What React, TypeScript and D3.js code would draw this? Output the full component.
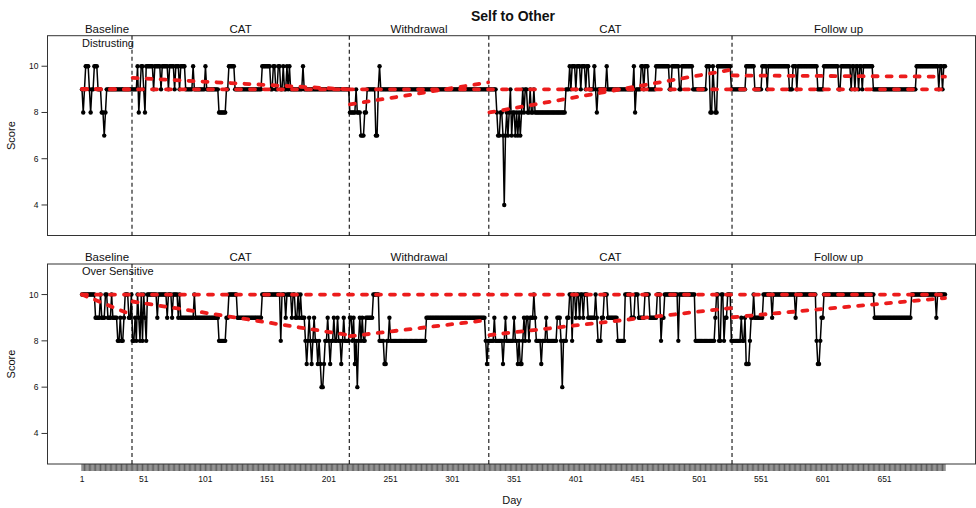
import React from "react";
import * as d3 from "d3";

const title = "Self to Other";
const phaseNames = ["Baseline", "CAT", "Withdrawal", "CAT", "Follow up"];
const phaseBreaks = [41.5, 217.5, 330.5, 527.5];
const firstDay = 1;
const lastDay = 700;
const dayTicks = [1, 51, 101, 151, 201, 251, 301, 351, 401, 451, 501, 551, 601, 651];
const scoreTicks = [4, 6, 8, 10];

// daily scores as [score, consecutive days]
const distrustingRuns: [number, number][] = [
  [9, 1], [8, 1], [9, 1], [10, 3], [9, 1], [8, 1], [9, 2], [10, 3], [9, 3], [8, 2], [7, 1], [8, 1], [9, 21],
  [9, 4], [10, 1], [8, 1], [9, 1], [10, 2], [9, 1], [8, 1],
  [10, 6], [9, 1], [10, 5], [9, 1], [10, 5], [9, 1], [10, 4], [9, 1], [10, 3], [9, 1], [10, 4],
  [9, 6], [10, 1], [9, 9], [10, 1], [9, 10], [8, 6], [9, 2], [10, 5], [9, 22], [10, 7],
  [9, 2], [10, 2], [9, 2], [10, 2], [9, 2], [10, 1], [9, 2], [10, 1], [9, 1], [10, 1],
  [9, 10], [10, 1], [9, 37],
  [8, 5], [9, 1], [8, 3], [7, 3], [8, 2], [9, 7], [7, 2], [9, 1], [10, 1], [9, 88],
  [9, 6], [8, 1], [7, 2], [8, 2], [7, 1], [4, 1], [7, 1], [8, 1], [7, 1], [8, 1], [9, 1], [7, 1], [8, 2],
  [7, 1], [8, 1], [7, 1], [8, 1], [7, 1], [8, 1], [9, 1], [8, 1], [9, 2], [8, 2], [9, 1], [8, 2], [9, 1],
  [8, 25], [9, 3],
  [10, 1], [9, 1], [10, 3], [9, 1], [10, 3], [9, 1], [10, 3], [9, 1], [10, 2],
  [9, 4], [10, 1], [9, 1], [8, 1], [9, 7], [10, 1], [9, 21], [10, 1], [8, 1], [9, 4], [10, 2], [9, 1], [10, 3],
  [9, 6], [10, 11], [9, 2], [10, 6], [9, 2], [10, 9], [9, 11],
  [10, 3], [8, 2], [10, 1], [9, 1], [8, 2], [10, 11], [9, 1],
  [9, 11], [10, 7], [9, 6], [10, 4], [9, 1], [10, 17], [9, 3], [10, 3], [9, 1], [10, 16], [9, 5], [10, 12],
  [9, 2], [10, 8], [9, 1], [10, 2], [9, 1], [10, 2], [9, 1], [10, 2], [9, 1], [10, 8], [9, 35],
  [10, 18], [9, 1], [10, 2], [9, 1], [10, 2],
];

const overSensitiveRuns: [number, number][] = [
  [10, 11], [9, 4], [10, 1], [9, 3], [10, 2], [9, 3], [10, 1], [9, 4], [8, 2], [9, 1], [8, 2], [9, 1], [10, 3], [9, 2], [10, 1],
  [8, 2], [9, 1], [8, 1], [10, 1], [9, 1], [8, 1], [10, 1], [8, 1], [10, 1], [9, 1], [8, 1], [10, 1],
  [10, 7], [9, 1], [10, 7], [9, 1], [10, 3], [9, 1], [10, 4], [9, 1], [10, 1],
  [9, 11], [10, 1], [9, 19], [8, 6], [9, 2], [10, 7], [9, 20], [10, 15], [8, 1], [10, 3],
  [9, 1], [10, 4], [9, 1], [10, 2], [9, 2], [10, 1], [9, 1], [10, 1], [9, 3],
  [8, 1], [7, 1], [8, 1], [9, 1], [8, 1], [7, 1], [8, 1], [9, 1], [8, 2], [7, 1], [8, 1], [7, 1], [6, 2], [7, 1],
  [8, 2], [9, 1], [8, 1], [7, 1], [8, 2], [9, 1], [8, 2], [9, 1], [8, 2], [7, 1], [8, 1], [9, 1], [8, 4],
  [9, 2], [8, 1], [9, 1], [7, 1], [8, 1], [6, 1], [8, 1], [9, 1], [8, 1], [9, 1], [8, 2], [9, 6], [10, 5],
  [8, 4], [7, 2], [8, 2], [9, 1], [8, 29], [9, 48], [8, 1], [7, 1], [8, 1],
  [8, 4], [9, 1], [8, 6], [7, 1], [8, 1], [9, 1], [8, 6], [9, 1], [8, 2], [7, 1], [8, 1], [7, 2], [8, 1], [9, 1],
  [8, 1], [9, 2], [8, 1], [9, 3], [10, 1], [9, 1], [8, 4], [7, 1], [8, 3], [9, 1], [8, 8], [9, 3], [8, 1], [6, 1],
  [8, 3], [9, 2],
  [10, 2], [8, 1], [10, 2], [9, 1], [10, 2], [9, 1], [10, 2], [9, 1], [10, 3],
  [9, 6], [10, 1], [9, 1], [8, 3], [9, 2], [10, 3], [9, 8], [8, 6],
  [10, 5], [9, 3], [10, 3], [9, 5], [10, 4], [9, 6],
  [10, 3], [8, 1], [9, 2], [10, 11], [8, 1], [10, 13],
  [8, 16], [9, 1], [10, 2], [8, 2], [10, 2], [8, 1], [9, 2], [10, 3], [8, 1],
  [8, 7], [9, 1], [8, 2], [9, 1], [7, 3], [8, 1], [9, 2], [10, 1], [9, 7],
  [10, 7], [9, 1], [10, 18], [9, 1], [10, 16],
  [8, 1], [7, 2], [8, 1], [9, 2], [10, 41],
  [9, 30], [10, 20], [9, 1], [10, 7],
];

// red trend per phase: [startDay, endDay, startScore, endScore]
const distrustingTrend = [
  [1, 41, 9.02, 9.0],
  [42, 217, 9.5, 9.0],
  [218, 330, 8.35, 9.3],
  [331, 527, 8.0, 9.85],
  [528, 700, 9.6, 9.55],
];
const overSensitiveTrend = [
  [1, 41, 10.0, 9.13],
  [42, 217, 9.7, 8.25],
  [218, 330, 8.2, 8.9],
  [331, 527, 8.25, 9.42],
  [528, 700, 9.02, 9.85],
];
const distrustingLevel = 9;
const overSensitiveLevel = 10;

const red = "#ec1c1c";
const font = "Liberation Sans, Arial, Helvetica, sans-serif";

function expandRuns(runs: [number, number][]) {
  const out: { day: number; score: number }[] = [];
  let day = firstDay;
  runs.forEach(([score, n]) => {
    for (let i = 0; i < n; i++) out.push({ day: day++, score });
  });
  return out;
}

const x = d3.scaleLinear().domain([firstDay, lastDay]).range([82, 945]);
const boxLeft = 47.5;
const boxRight = 975.5;

function Panel({ top, bottom, name, runs, trend, level }) {
  const y = d3.scaleLinear().domain([2.68, 11.32]).range([bottom, top]);
  const points = expandRuns(runs);
  const line = d3
    .line<{ day: number; score: number }>()
    .x((d) => x(d.day))
    .y((d) => y(d.score));
  const bounds = [firstDay, ...phaseBreaks, lastDay];

  return (
    <g>
      <rect x={boxLeft} y={top} width={boxRight - boxLeft} height={bottom - top} fill="none" stroke="#333" strokeWidth={1} />
      {phaseNames.map((p, i) => (
        <text key={i} x={(x(bounds[i]) + x(bounds[i + 1])) / 2} y={top - 3} textAnchor="middle" fontSize={11.5} fill="#111">
          {p}
        </text>
      ))}
      <text x={x(firstDay)} y={top + 11} fontSize={11} fill="#111">
        {name}
      </text>
      {scoreTicks.map((t) => (
        <g key={t}>
          <line x1={boxLeft - 6} x2={boxLeft} y1={y(t)} y2={y(t)} stroke="#333" />
          <text x={boxLeft - 9} y={y(t)} dy="0.35em" textAnchor="end" fontSize={8.5} fill="#111">
            {t}
          </text>
        </g>
      ))}
      <text transform={`translate(15,${(top + bottom) / 2}) rotate(-90)`} textAnchor="middle" fontSize={11} fill="#111">
        Score
      </text>
      {phaseBreaks.map((b) => (
        <line key={b} x1={x(b)} x2={x(b)} y1={top} y2={bottom} stroke="#111" strokeWidth={1.1} strokeDasharray="4,3" />
      ))}
      <path d={line(points) ?? ""} fill="none" stroke="#000" strokeWidth={1.5} />
      {points.map((d) => (
        <circle key={d.day} cx={x(d.day)} cy={y(d.score)} r={2.2} fill="#000" />
      ))}
      <line x1={x(firstDay)} x2={x(lastDay)} y1={y(level)} y2={y(level)} stroke={red} strokeWidth={3.8} strokeDasharray="5,9" strokeLinecap="round" />
      {trend.map(([d0, d1, s0, s1], i) => (
        <line key={i} x1={x(d0)} x2={x(d1)} y1={y(s0)} y2={y(s1)} stroke={red} strokeWidth={3.8} strokeDasharray="5,9" strokeLinecap="round" />
      ))}
    </g>
  );
}

export default function App() {
  const allDays = d3.range(firstDay, lastDay + 1);
  const axisY = 464;
  return (
    <svg width={976} height={508} style={{ position: "absolute", left: 0, top: 0, background: "#fff" }} fontFamily={font}>
      <text x={513} y={20.5} textAnchor="middle" fontSize={14} fontWeight="bold" fill="#111">
        {title}
      </text>
      <Panel top={35.7} bottom={235.5} name="Distrusting" runs={distrustingRuns} trend={distrustingTrend} level={distrustingLevel} />
      <Panel top={264} bottom={464} name="Over Sensitive" runs={overSensitiveRuns} trend={overSensitiveTrend} level={overSensitiveLevel} />
      <g>
        {allDays.map((d) => (
          <line key={d} x1={x(d)} x2={x(d)} y1={axisY} y2={axisY + 7} stroke="#333" strokeWidth={0.8} />
        ))}
        {dayTicks.map((d) => (
          <text key={d} x={x(d)} y={482} textAnchor="middle" fontSize={8.5} fill="#111">
            {d}
          </text>
        ))}
        <text x={512} y={503.5} textAnchor="middle" fontSize={11} fill="#111">
          Day
        </text>
      </g>
    </svg>
  );
}
